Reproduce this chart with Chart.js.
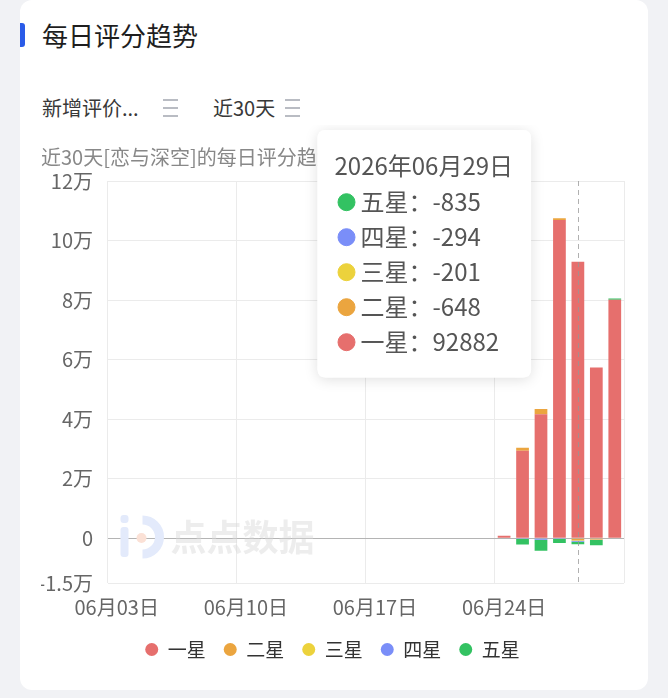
<!DOCTYPE html>
<html>
<head>
<meta charset="utf-8">
<script src="https://cdn.jsdelivr.net/npm/chart.js@4.4.1/dist/chart.umd.min.js"></script>
<style>
  html, body { margin: 0; padding: 0; }
  body { width: 668px; height: 698px; background: #f1f2f5; overflow: hidden; position: relative;
         font-family: "Noto Sans CJK SC", "Noto Sans", sans-serif; }
  .card { position: absolute; left: 20px; top: 0; width: 628px; height: 690px; background: #fff; border-radius: 12px; }
  .mark { position: absolute; left: 0; top: 23px; width: 5px; height: 24px; background: #2a5be8; border-radius: 0 3px 3px 0; }
  h1 { position: absolute; left: 22px; top: 17px; margin: 0; font-size: 26px; font-weight: 400; color: #1e1e1e; line-height: 36px; }
  .txt { position: absolute; top: 95px; font-size: 20px; color: #383838; line-height: 26px; white-space: nowrap; }
  .menu { position: absolute; top: 99px; width: 15px; height: 14px; border-top: 2px solid #b9bcc3; border-bottom: 2px solid #b9bcc3; }
  .menu::after { content: ""; position: absolute; left: 0; right: 0; top: 6px; height: 2px; background: #b9bcc3; }
  #wrap { position: absolute; left: 0; top: 125px; width: 628px; height: 565px; }
</style>
</head>
<body>
<div class="card">
  <div class="mark"></div>
  <h1>每日评分趋势</h1>
  <div class="txt" style="left:22px">新增评价...</div>
  <div class="menu" style="left:143px"></div>
  <div class="txt" style="left:193px">近30天</div>
  <div class="menu" style="left:265px"></div>
  <div id="wrap"><canvas id="chart"></canvas></div>
</div>
<script>
const days = ['06月03日', '06月04日', '06月05日', '06月06日', '06月07日', '06月08日', '06月09日',
  '06月10日', '06月11日', '06月12日', '06月13日', '06月14日', '06月15日', '06月16日',
  '06月17日', '06月18日', '06月19日', '06月20日', '06月21日', '06月22日', '06月23日',
  '06月24日', '06月25日', '06月26日', '06月27日', '06月28日', '06月29日', '06月30日'];

const oneStar   = [0,0,0,0,0,0,0,0,0,0,0,0,0,0,0,0,0,0,0,0,0, 900, 29400, 41700, 106900, 92882, 57400, 80100];
const twoStar   = [0,0,0,0,0,0,0,0,0,0,0,0,0,0,0,0,0,0,0,0,0, 0, 1000, 1700, 600, -648, -400, 0];
const threeStar = [0,0,0,0,0,0,0,0,0,0,0,0,0,0,0,0,0,0,0,0,0, 0, -100, -150, -100, -201, -100, 0];
const fourStar  = [0,0,0,0,0,0,0,0,0,0,0,0,0,0,0,0,0,0,0,0,0, 0, -150, -350, -100, -294, -100, 0];
const fiveStar  = [0,0,0,0,0,0,0,0,0,0,0,0,0,0,0,0,0,0,0,0,0, 0, -1800, -3700, -1400, -835, -1700, 450];

const names = ['一星', '二星', '三星', '四星', '五星'];
const colors = ['#e66f6d', '#eba53f', '#ecd23c', '#7a8ef8', '#33c262'];
const yTicks = [-15000, 0, 20000, 40000, 60000, 80000, 100000, 120000];
const activeDay = 25;

const font = "'Noto Sans CJK SC', 'Noto Sans', sans-serif";
Chart.defaults.font.family = font;

// tooltip in the app shows the following calendar day
function tipTitle(i) {
  const [m, d] = days[i].match(/\d+/g).map(Number);
  const t = new Date(2026, m - 1, d + 1);
  const p = n => String(n).padStart(2, '0');
  return '2026年' + p(t.getMonth() + 1) + '月' + p(t.getDate()) + '日';
}

Chart.Tooltip.positioners.pinned = function () {
  const a = this.chart.chartArea;
  return { x: a.left + 218, y: 5 };
};

const extras = {
  id: 'extras',
  beforeDatasetsDraw(chart) {
    const { ctx, chartArea: a } = chart;
    ctx.save();
    // watermark
    const lx = a.left + 13, ly = a.bottom - 68;
    ctx.fillStyle = '#e3eafb';
    ctx.beginPath();
    ctx.roundRect(lx, ly, 8, 8, 3);
    ctx.roundRect(lx, ly + 12, 8, 30, 3);
    ctx.fill();
    ctx.beginPath();
    ctx.arc(lx + 22, ly + 22, 17, -Math.PI / 2, Math.PI / 2);
    ctx.lineWidth = 9;
    ctx.strokeStyle = '#e3eafb';
    ctx.stroke();
    ctx.fillStyle = '#fbe1d6';
    ctx.beginPath();
    ctx.arc(lx + 21, ly + 23, 5, 0, Math.PI * 2);
    ctx.fill();
    ctx.fillStyle = 'rgba(215,215,215,0.45)';
    ctx.font = 'bold 36px ' + font;
    ctx.textBaseline = 'middle';
    ctx.fillText('点点数据', a.left + 63, ly + 22);
    ctx.restore();
  },
  afterDatasetsDraw(chart) {
    const { ctx, chartArea: a } = chart;
    const x = Math.round(chart.scales.x.getPixelForValue(activeDay)) + 0.5;
    ctx.save();
    ctx.setLineDash([5, 4]);
    ctx.strokeStyle = 'rgba(150,150,150,0.75)';
    ctx.lineWidth = 1;
    ctx.beginPath();
    ctx.moveTo(x, a.top);
    ctx.lineTo(x, a.bottom);
    ctx.stroke();
    ctx.restore();
  },
  beforeTooltipDraw(chart, args) {
    const t = args.tooltip;
    if (!t.opacity) return;
    const ctx = chart.ctx;
    ctx.save();
    ctx.shadowColor = 'rgba(0,0,0,0.13)';
    ctx.shadowBlur = 14;
    ctx.shadowOffsetY = 2;
    ctx.fillStyle = '#fff';
    ctx.beginPath();
    ctx.roundRect(t.x, t.y, t.width, t.height, 8);
    ctx.fill();
    ctx.restore();
  }
};

const series = [oneStar, twoStar, threeStar, fourStar, fiveStar];

const chart = new Chart(document.getElementById('chart'), {
  type: 'bar',
  data: {
    labels: days,
    datasets: series.map((d, i) => ({
      label: names[i],
      data: d,
      backgroundColor: colors[i],
      borderWidth: 0,
      barPercentage: 0.69,
      categoryPercentage: 1
    }))
  },
  options: {
    animation: false,
    responsive: true,
    maintainAspectRatio: false,
    events: [],
    layout: { padding: { left: 21, right: 24, top: 0, bottom: 21 } },
    interaction: { mode: 'index', intersect: false },
    scales: {
      x: {
        stacked: true,
        afterFit: axis => { axis.height = 39; },
        grid: {
          offset: true,
          drawTicks: false,
          color: c => (c.index === undefined || c.index % 7 === 0) ? '#ebebeb' : 'rgba(0,0,0,0)'
        },
        border: { display: false },
        ticks: {
          autoSkip: false,
          maxRotation: 0,
          padding: 9,
          color: '#666',
          font: { size: 20, lineHeight: 1.5 },
          callback: (v, i) => i % 7 === 0 ? days[i] : ''
        }
      },
      y: {
        stacked: true,
        min: -15000,
        max: 120000,
        afterBuildTicks: axis => { axis.ticks = yTicks.map(v => ({ value: v })); },
        afterFit: axis => { axis.width = 66.5; },
        grid: {
          drawTicks: false,
          color: c => (c.tick && c.tick.value === 0) ? '#b4b4b4' : '#ebebeb'
        },
        border: { display: false },
        ticks: {
          padding: 14.5,
          color: '#666',
          font: { size: 20 },
          callback: v => v === 0 ? '0' : (v / 10000) + '万'
        }
      }
    },
    plugins: {
      title: {
        display: true,
        text: '近30天[恋与深空]的每日评分趋势',
        align: 'start',
        color: '#888',
        font: { size: 20, weight: 'normal' },
        padding: { top: 20, bottom: 12 }
      },
      legend: {
        position: 'bottom',
        labels: {
          usePointStyle: true,
          pointStyle: 'circle',
          pointStyleWidth: 13,
          boxHeight: 9.2,
          padding: 18,
          color: '#333',
          font: { size: 19 }
        }
      },
      tooltip: {
        position: 'pinned',
        xAlign: 'left',
        yAlign: 'top',
        caretSize: 0,
        caretPadding: 0,
        backgroundColor: '#fff',
        cornerRadius: 8,
        padding: { left: 17, right: 18, top: 21, bottom: 21 },
        titleColor: '#555',
        titleFont: { size: 24, weight: 'normal' },
        titleMarginBottom: 8,
        bodyColor: '#555',
        bodyFont: { size: 24 },
        bodySpacing: 6.2,
        boxWidth: 24,
        boxHeight: 17,
        usePointStyle: true,
        itemSort: (a, b) => b.datasetIndex - a.datasetIndex,
        callbacks: {
          title: items => tipTitle(items[0].dataIndex),
          label: item => item.dataset.label + '：' + item.raw,
          labelColor: item => ({ borderColor: colors[item.datasetIndex], backgroundColor: colors[item.datasetIndex] }),
          labelPointStyle: () => ({ pointStyle: 'circle', rotation: 0 })
        }
      }
    }
  },
  plugins: [extras]
});

chart.tooltip.setActiveElements(series.map((d, i) => ({ datasetIndex: i, index: activeDay })), { x: 0, y: 0 });
chart.update();
</script>
</body>
</html>
